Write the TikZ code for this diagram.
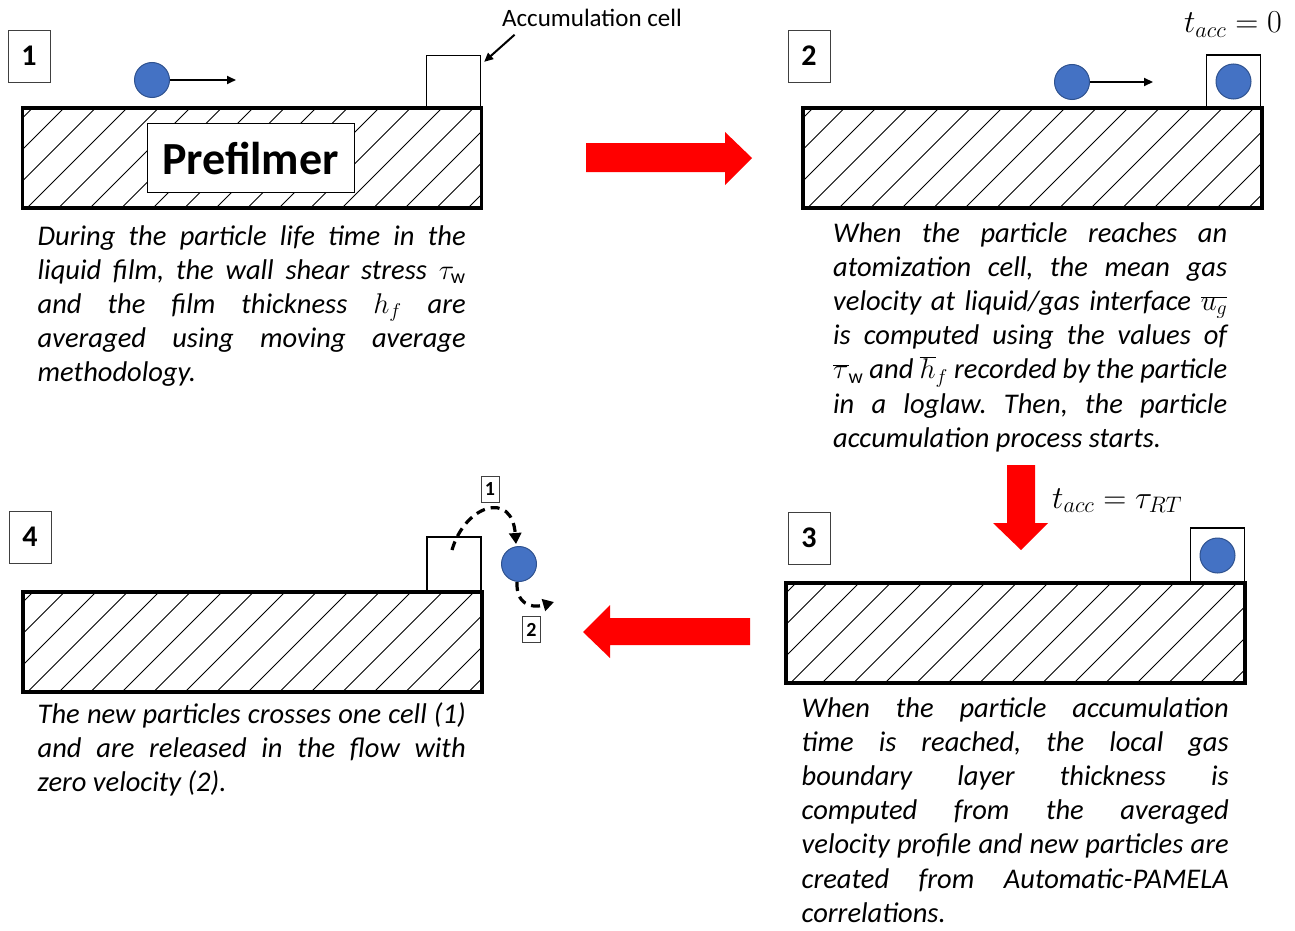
\RequirePackage{fix-cm}
\documentclass[tikz,border=0pt]{standalone}
\usepackage{fontspec}
\setmainfont{Carlito}
\usetikzlibrary{arrows.meta}
\frenchspacing
\definecolor{ballblue}{HTML}{4472C4}
\definecolor{balledge}{HTML}{2F528F}
\tikzset{
  plate/.style={draw, line width=3.6pt, minimum width=459pt, minimum height=100pt, inner sep=0pt,
    path picture={\foreach \k in {0,...,19}{\draw[line width=0.9pt] ([xshift=\k*31.5pt-90pt]path picture bounding box.south west) -- ++(110pt,110pt);}}},
  numbox/.style={draw=black!75, line width=0.8pt, minimum width=42pt, minimum height=52pt, inner sep=0pt, font=\fontsize{30}{30}\selectfont\bfseries},
  cellbox/.style={draw, line width=1.3pt, minimum width=54pt, minimum height=53pt, inner sep=0pt},
  ball/.style={circle, fill=ballblue, draw=balledge, line width=1pt, minimum size=35pt, inner sep=0pt},
  desc/.style={anchor=base west, inner sep=0pt, align=justify, font=\fontsize{28.5}{34.2}\selectfont\itshape},
  moveline/.style={line width=2pt, -{Triangle[length=9pt,width=8pt]}},
  jumpline/.style={line width=3.2pt, dash pattern=on 9pt off 6pt, -{Triangle[length=11pt,width=12pt]}},
  tinybox/.style={draw=black!75, line width=0.8pt, inner sep=1.5pt, minimum width=18pt, minimum height=26pt, font=\fontsize{20}{20}\selectfont\bfseries},
  bigarrow/.style={fill=red, draw=none},
}
\begin{document}
\begin{tikzpicture}[x=1pt,y=-1pt]
\useasboundingbox (0,0) rectangle (1295,931);
% ---------------- panel 1
\node[plate] (p1) at (252,158) {};
\node[draw, fill=white, line width=1pt, minimum width=207pt, minimum height=68pt, inner sep=0pt,
      font=\fontsize{46}{46}\selectfont\bfseries] (pref) at (250.5,158) {Prefilmer};
\node[numbox] (n1) at (29,56) {1};
\node[cellbox] (c1) at (453.5,82) {};
\node[ball] (b1) at (152,80) {};
\coordinate (b1e) at (236,80);
\draw[moveline] (b1.east) -- (b1e);
\node[font=\fontsize{25}{25}\selectfont, anchor=base] (acclbl) at (592,27) {Accumulation cell};
\draw[line width=2pt, -{Triangle[length=9pt,width=8pt]}] ([xshift=16pt,yshift=-4pt]acclbl.south west) -- ([xshift=3pt,yshift=-7pt]c1.north east);
\node[desc, text width=428pt] (t1) at (37.5,245) {During the particle life time in the\linebreak
liquid film, the wall shear stress $\tau_{\mathrm{w}}$\linebreak
and the film thickness $h_f$ are\linebreak
averaged using moving average\linebreak
methodology.};
% ---------------- panel 2
\node[plate] (p2) at (1032.5,158) {};
\node[numbox] (n2) at (809,56) {2};
\node[cellbox] (c2) at (1233.5,81.5) {};
\node[ball] (b2c) at (c2) {};
\node[ball] (b2) at (1072,82) {};
\coordinate (b2e) at (1153,82);
\draw[moveline] (b2.east) -- (b2e);
\node[anchor=base, font=\fontsize{32}{32}\selectfont] (tz) at (1233,33) {$t_{acc} = 0$};
\node[desc, text width=394pt] (t2) at (833,242) {When the particle reaches an\linebreak
atomization cell, the mean gas\linebreak
velocity at liquid/gas interface $\overline{u_g}$\linebreak
is computed using the values of\linebreak
$\overline{\tau}_{\mathrm{w}}$ and $\overline{h}_f$ recorded by the particle\linebreak
in a loglaw. Then, the particle\linebreak
accumulation process starts.};
% ---------------- panel 3
\node[plate] (p3) at (1015.5,633) {};
\node[numbox] (n3) at (809,538) {3};
\node[cellbox, minimum height=55pt] (c3) at (1217.5,555.5) {};
\node[ball] (b3) at (c3) {};
\node[anchor=base west, font=\fontsize{32}{32}\selectfont, inner sep=0pt] (trt) at (1052,508) {$t_{acc} = \tau_{RT}$};
\node[desc, text width=427pt] (t3) at (801.5,717) {When the particle accumulation\linebreak
time is reached, the local gas\linebreak
boundary layer thickness is\linebreak
computed from the averaged\linebreak
velocity profile and new particles are\linebreak
created from Automatic-PAMELA\linebreak
correlations.};
% ---------------- panel 4
\node[plate] (p4) at (252.5,642) {};
\node[numbox] (n4) at (30,537) {4};
\node[cellbox, minimum height=55pt] (c4) at (454,564.5) {};
\node[ball] (b4) at (519,564) {};
\node[tinybox] (j1) at (490,489.5) {1};
\node[tinybox] (j2) at (531.5,629.5) {2};
\coordinate (j1s) at (452,550);
\coordinate (j2e) at (554,602);
\draw[jumpline] (j1s) .. controls (465,505) and (512,490) .. ([xshift=-3pt,yshift=2pt]b4.north);
\draw[jumpline] ([xshift=-2pt]b4.south) .. controls (516,603) and (530,609) .. (j2e);
\node[desc, text width=428pt] (t4) at (37.5,723) {The new particles crosses one cell (1)\linebreak
and are released in the flow with\linebreak
zero velocity (2).};
% ---------------- red block arrows
\fill[bigarrow] (586,143) -- (725,143) -- (725,132) -- (752,158) -- (725,185) -- (725,172) -- (586,172) -- cycle;
\fill[bigarrow] (1007,465) -- (1035,465) -- (1035,523) -- (1048,523) -- (1021,550) -- (993,523) -- (1007,523) -- cycle;
\fill[bigarrow] (750,618) -- (610,618) -- (610,605) -- (583,632) -- (610,658) -- (610,645) -- (750,645) -- cycle;
\end{tikzpicture}
\end{document}
